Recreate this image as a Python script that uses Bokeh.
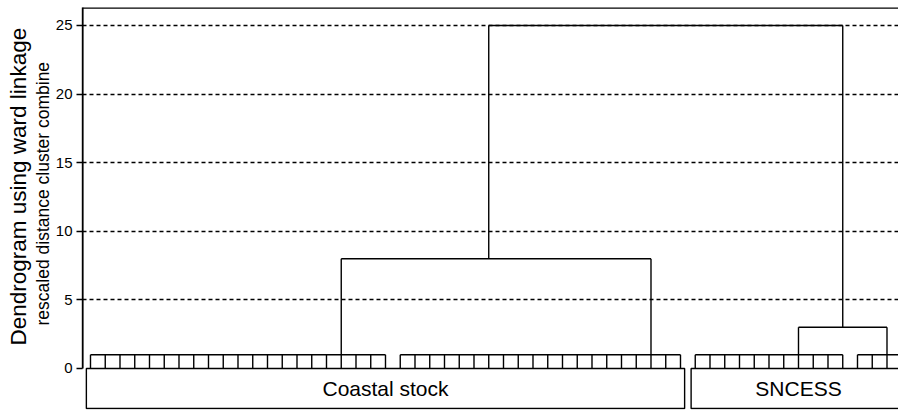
from bokeh.plotting import figure
from bokeh.models import Range1d, FixedTicker, Title
from bokeh.embed import file_html
from bokeh.resources import INLINE
from bokeh.core.properties import value

# ---------------- data ----------------
# leaf groups (leaf index positions), all merged at rescaled distance 1
group_first_leaf = [0, 21, 41, 52]
group_last_leaf = [20, 40, 51, 55]
group_height = [1, 1, 1, 1]
group_link_x = [17, 38, 48, 54]

# merges: children (by cluster id), merge height, position of new node
# cluster ids 0..3 are the leaf groups, 4.. are merged clusters
merge_left = [0, 2, 4]
merge_right = [1, 3, 5]
merge_height = [8, 3, 25]
merge_node_x = [27, 51, 39]

category_names = ["Coastal stock", "SNCESS"]
category_first_leaf = [0, 41]
category_last_leaf = [40, 55]

y_ticks = [0, 5, 10, 15, 20, 25]
grid_ticks = [5, 10, 15, 20, 25]
y_title = "Dendrogram using ward linkage"
y_subtitle = "rescaled distance cluster combine"

# ---------------- style ----------------
FONT = "Liberation Sans"
LW = 1.4
X_START, X_END = -0.542, 54.78
Y_START, Y_END = -2.99, 26.31
BOX_PAD = 0.28
BOX_BOTTOM = -2.92

p = figure(width=898, height=411, output_backend="svg", toolbar_location=None,
           x_range=Range1d(X_START, X_END), y_range=Range1d(Y_START, Y_END),
           min_border_left=82, min_border_right=0, min_border_top=7, min_border_bottom=2)
p.outline_line_color = None
p.xaxis.visible = False
p.xgrid.visible = False

ax = p.yaxis[0]
ax.ticker = FixedTicker(ticks=y_ticks)
ax.minor_tick_line_color = None
ax.major_tick_out = 6
ax.major_tick_in = 0
ax.major_label_standoff = 4
ax.major_label_text_font = FONT
ax.major_label_text_font_size = "15px"
ax.major_label_text_color = "black"
ax.axis_line_width = LW
ax.major_tick_line_width = LW
ax.axis_line_color = "black"
ax.bounds = (0, Y_END)

p.ygrid.ticker = FixedTicker(ticks=grid_ticks)
p.ygrid.grid_line_color = "black"
p.ygrid.grid_line_dash = "4 3"
p.ygrid.grid_line_width = 1.3

# top frame line and left axis line (frame edges)
p.segment(x0=[X_START, X_START], y0=[Y_END - 0.02, 0], x1=[X_END, X_START], y1=[Y_END - 0.02, Y_END],
          line_color="black", line_width=LW + 0.6)

# leaves
vx0, vy0, vx1, vy1 = [], [], [], []
for a, b, h in zip(group_first_leaf, group_last_leaf, group_height):
    for i in range(a, b + 1):
        vx0.append(i); vy0.append(0); vx1.append(i); vy1.append(h)
    vx0.append(a); vy0.append(h); vx1.append(b); vy1.append(h)

# merges
node_x = list(group_link_x) + list(merge_node_x)
node_h = list(group_height) + list(merge_height)
for l, r, h, nx in zip(merge_left, merge_right, merge_height, merge_node_x):
    xl, xr = node_x[l], node_x[r]
    vx0 += [xl, xr, xl]; vy0 += [node_h[l], node_h[r], h]
    vx1 += [xl, xr, xr]; vy1 += [h, h, h]

p.segment(x0=vx0, y0=vy0, x1=vx1, y1=vy1, line_color="black", line_width=LW)

# category boxes
left = [a - BOX_PAD for a in category_first_leaf]
right = [b + BOX_PAD for b in category_last_leaf]
p.quad(left=left, right=right, bottom=[BOX_BOTTOM] * 2, top=[0] * 2,
       fill_color=None, line_color="black", line_width=LW)
p.text(x=[(a + b) / 2 for a, b in zip(category_first_leaf, category_last_leaf)],
       y=[BOX_BOTTOM / 2] * 2, text=category_names,
       text_font=value(FONT), text_font_size="21px", text_align="center",
       text_baseline="middle", text_color="black")

# axis titles (stacked on the left)
p.add_layout(Title(text=y_subtitle, align="left", offset=84, text_font=FONT,
                   text_font_size="17.5px", text_font_style="normal",
                   text_color="black", standoff=0), "left")
p.add_layout(Title(text=y_title, align="left", offset=64, text_font=FONT,
                   text_font_size="22.5px", text_font_style="normal",
                   text_color="black", standoff=0), "left")

open("out.html", "w").write(file_html(p, INLINE))
